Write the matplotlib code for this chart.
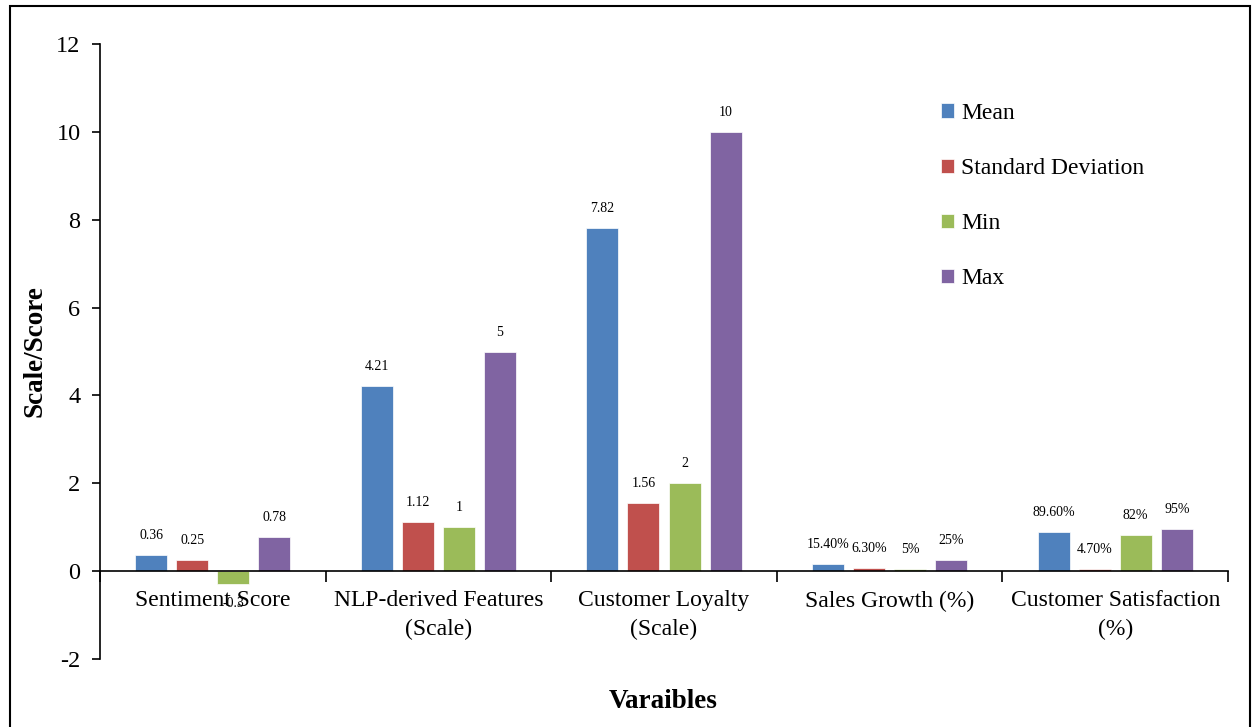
import numpy as np
import matplotlib
matplotlib.use("Agg")
import matplotlib.pyplot as plt
from matplotlib.patches import Rectangle

plt.rcParams["font.family"] = ["Liberation Serif", "DejaVu Serif"]
plt.rcParams["axes.unicode_minus"] = False

categories = ["Sentiment Score", "NLP-derived Features\n(Scale)",
              "Customer Loyalty\n(Scale)", "Sales Growth (%)",
              "Customer Satisfaction\n(%)"]
series = ["Mean", "Standard Deviation", "Min", "Max"]
colors = ["#4F81BD", "#C0504D", "#9BBB59", "#8064A2"]

mean_vals = [0.36, 4.21, 7.82, 0.154, 0.896]
std_vals = [0.25, 1.12, 1.56, 0.063, 0.047]
min_vals = [-0.3, 1, 2, 0.05, 0.82]
max_vals = [0.78, 5, 10, 0.25, 0.95]

mean_labels = ["0.36", "4.21", "7.82", "15.40%", "89.60%"]
std_labels = ["0.25", "1.12", "1.56", "6.30%", "4.70%"]
min_labels = ["-0.3", "1", "2", "5%", "82%"]
max_labels = ["0.78", "5", "10", "25%", "95%"]

values = [mean_vals, std_vals, min_vals, max_vals]
labels = [mean_labels, std_labels, min_labels, max_labels]

fig = plt.figure(figsize=(12.57, 7.27), dpi=100)
ax = fig.add_axes([100 / 1257, 1 - 659 / 727, 1128 / 1257, 615 / 727])

x = np.arange(len(categories)) + 0.5
pitch, width = 0.182, 0.142
handles = []
for k, (vals, labs, col, name) in enumerate(zip(values, labels, colors, series)):
    xs = x + (k - 1.5) * pitch
    bars = ax.bar(xs, vals, width, color=col, edgecolor="white",
                  linewidth=0.5, label=name, zorder=2)
    handles.append(bars)
    for xi, v, t in zip(xs, vals, labs):
        off = 14 if v >= 0 else -14
        ax.annotate(t, (xi, v), xytext=(0, off), textcoords="offset points",
                    ha="center", va="center", fontsize=10, zorder=1)

ax.set_xlim(0, 5)
ax.set_ylim(-2, 12)
ax.set_yticks(np.arange(-2, 13, 2))
ax.tick_params(axis="y", labelsize=17.5, length=6, width=1.2, pad=8)

# category names sit just under the zero line, boundary ticks point down
ax.set_xticks(np.arange(0, 6))
ax.set_xticklabels([])
ax.tick_params(axis="x", length=8, width=1.2, direction="out")
for xi, cat in zip(x, categories):
    ax.text(xi, -0.44, cat, ha="center", va="top", fontsize=17,
            linespacing=1.45, zorder=3)

ax.spines["top"].set_visible(False)
ax.spines["right"].set_visible(False)
ax.spines["bottom"].set_position(("data", 0))
ax.spines["left"].set_linewidth(1.2)
ax.spines["bottom"].set_linewidth(1.2)

ax.set_ylabel("Scale/Score", fontsize=19.5, fontweight="bold", labelpad=6)
fig.text(663 / 1257, 1 - 701 / 727, "Varaibles", fontsize=19.5,
         fontweight="bold", ha="center", va="center")

ax.legend(handles=handles, loc="upper left", bbox_to_anchor=(0.727, 0.939),
          frameon=False, fontsize=17, handlelength=0.55, handleheight=0.55,
          handletextpad=0.3, labelspacing=1.45)

fig.patches.append(Rectangle((10 / 1257, -0.02), 1240 / 1257, 1.0117,
                             transform=fig.transFigure, fill=False,
                             edgecolor="black", linewidth=1.5))

fig.savefig("out.png", dpi=100)
